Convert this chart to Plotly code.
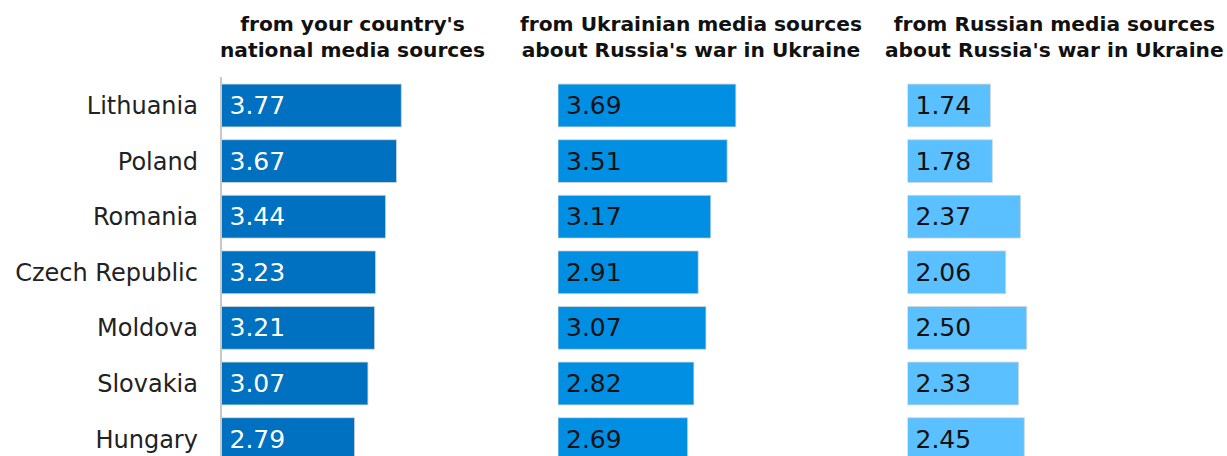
import plotly.graph_objects as go
from plotly.subplots import make_subplots

countries = ["Lithuania", "Poland", "Romania", "Czech Republic", "Moldova", "Slovakia", "Hungary"]
national = [3.77, 3.67, 3.44, 3.23, 3.21, 3.07, 2.79]
ukrainian = [3.69, 3.51, 3.17, 2.91, 3.07, 2.82, 2.69]
russian = [1.74, 1.78, 2.37, 2.06, 2.50, 2.33, 2.45]

titles = ["from your country's<br>national media sources",
          "from Ukrainian media sources<br>about Russia's war in Ukraine",
          "from Russian media sources<br>about Russia's war in Ukraine"]
colors = ["#0070C0", "#008FE3", "#5BC0FF"]
text_colors = ["white", "#111111", "#111111"]

W, H = 1227, 456
font = "DejaVu Sans"

fig = make_subplots(1, 3)

# panel geometry in pixels: (bar start, px per unit)
panels = [(221.5, 47.7), (558, 48.2), (907.5, 47.7)]
xmax = 4.5

for i, vals in enumerate([national, ukrainian, russian]):
    fig.add_trace(
        go.Bar(x=vals, y=countries, orientation='h',
               marker=dict(color=colors[i], line=dict(color='rgba(215,215,215,0.8)', width=1)),
               text=[f"\u2009{v:.2f}" for v in vals], textposition='inside', insidetextanchor='start',
               textfont=dict(color=text_colors[i], size=25, family=font),
               constraintext='none', cliponaxis=True, showlegend=False, hoverinfo='skip'),
        row=1, col=i + 1)
    x0, scale = panels[i]
    x1 = x0 + scale * xmax
    fig.update_xaxes(domain=[x0 / W, x1 / W], range=[0, xmax], visible=False, row=1, col=i + 1)

# titles
title_centers = [352, 691, 1054]
for c, t in zip(title_centers, titles):
    fig.add_annotation(x=c / W, y=(H - 36.5) / H, xref='paper', yref='paper', text=f"<b>{t}</b>",
                       showarrow=False, xanchor='center', yanchor='middle', align='center',
                       font=dict(family=font, size=20.2, color='#111111'))

# y axes: Lithuania at top, last bar cut at the bottom
pitch = 55.6
top_px, center0 = 77, 105.5
lo = -(center0 - top_px) / pitch
hi = 6 + (H - (center0 + 6 * pitch)) / pitch
plot_top = 1 - top_px / H
for i in range(3):
    fig.update_yaxes(range=[hi, lo], domain=[0, plot_top], row=1, col=i + 1,
                     showgrid=False, zeroline=False, ticks='', showticklabels=False)
fig.update_yaxes(showline=True, linecolor='#C8C8C8', linewidth=1.5, showticklabels=True,
                 tickfont=dict(family=font, size=24, color='#222222'), ticklabelstandoff=17, row=1, col=1)

fig.update_layout(width=W, height=H, margin=dict(l=0, r=0, t=0, b=0), bargap=0.23,
                  paper_bgcolor='white', plot_bgcolor='white')

fig.write_html("out.html", config={'displayModeBar': False},
               post_script="document.body.style.margin='0px';")
